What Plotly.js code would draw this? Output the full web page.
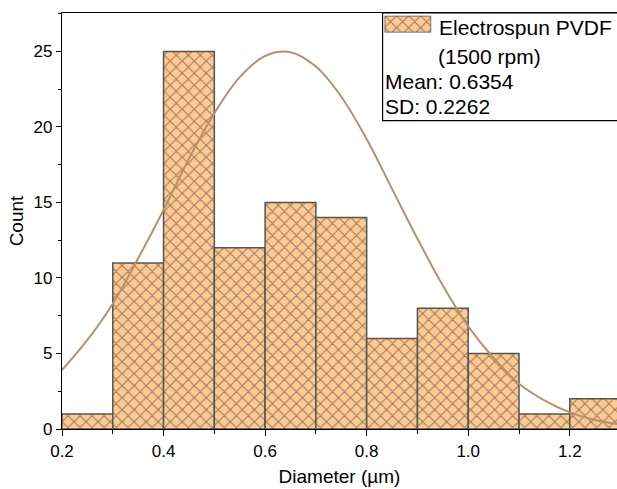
<!DOCTYPE html>
<html>
<head>
<meta charset="utf-8">
<script src="https://cdn.plot.ly/plotly-3.0.1.min.js"></script>
<style>html,body{margin:0;padding:0;background:#fff;}#chart{width:617px;height:489px;}</style>
</head>
<body>
<div id="chart"></div>
<script>
// Histogram bins (centres, µm) and counts
const binCenters = [0.25, 0.35, 0.45, 0.55, 0.65, 0.75, 0.85, 0.95, 1.05, 1.15, 1.25];
const counts = [1, 11, 25, 12, 15, 14, 6, 8, 5, 1, 2];
// Normal fit curve
const curveX = [0.20, 0.25, 0.30, 0.35, 0.40, 0.45, 0.50, 0.55, 0.60, 0.65, 0.70, 0.75, 0.80, 0.85, 0.90, 0.95, 1.00, 1.05, 1.10, 1.15, 1.20, 1.25, 1.30];
const curveY = [3.9, 5.9, 8.3, 11.3, 14.5, 17.9, 20.9, 23.3, 24.7, 24.95, 24.0, 22.0, 19.2, 15.9, 12.6, 9.5, 6.8, 4.7, 3.0, 1.9, 1.1, 0.6, 0.3];
// Legend texts
const seriesName = ["Electrospun PVDF", "(1500 rpm)"];
const statsText = ["Mean: 0.6354", "SD: 0.2262"];
const xTicks = [0.2, 0.4, 0.6, 0.8, 1.0, 1.2];
const yTicks = [0, 5, 10, 15, 20, 25];

const FONT = "Liberation Sans, Arial, sans-serif";
const barColor = "#FFC993";
const hatch = {shape: "x", size: 8.5, solidity: 0.24, fgcolor: "#303030", fillmode: "overlay"};

const traces = [
  {
    type: "bar", x: binCenters, y: counts, width: 0.1,
    marker: {color: barColor, line: {color: "#555555", width: 1.5}, pattern: hatch},
    showlegend: false, hoverinfo: "skip"
  },
  {
    type: "scatter", mode: "lines", x: curveX, y: curveY,
    line: {color: "#B8916A", width: 2, shape: "spline", smoothing: 1.0},
    showlegend: false, hoverinfo: "skip"
  },
  {
    type: "bar", x: [0], y: [1], width: 1, xaxis: "x2", yaxis: "y2",
    marker: {color: barColor, line: {color: "#555555", width: 1.5}, pattern: hatch},
    showlegend: false, hoverinfo: "skip"
  }
];

const plotL = 62.3, plotR = 617, plotT = 13.3, plotB = 428.7;
const px = v => (v - plotL) / (plotR - plotL);
const py = v => (plotB - v) / (plotB - plotT);

const annotations = [
  {text: seriesName[0], x: px(437.5), y: py(28), xanchor: "left", yanchor: "middle"},
  {text: seriesName[1], x: px(436.5), y: py(57), xanchor: "left", yanchor: "middle"},
  {text: statsText[0], x: px(383), y: py(82), xanchor: "left", yanchor: "middle"},
  {text: statsText[1], x: px(383), y: py(107), xanchor: "left", yanchor: "middle"}
].map(a => Object.assign(a, {xref: "paper", yref: "paper", showarrow: false, font: {family: FONT, size: 21, color: "#000"}}));

const layout = {
  width: 617, height: 489,
  margin: {l: 62.3, r: 0, t: 13.3, b: 60.3},
  paper_bgcolor: "#fff", plot_bgcolor: "#fff",
  bargap: 0,
  font: {family: FONT, color: "#000"},
  xaxis: {
    range: [0.2, 0.2 + (plotR - plotL) / 507.5],
    tickvals: xTicks, ticktext: xTicks.map(v => v.toFixed(1)),
    ticks: "outside", ticklen: 6, tickwidth: 1, tickcolor: "#000",
    minor: {dtick: 0.1, tick0: 0.2, ticks: "outside", ticklen: 4, tickcolor: "#000", showgrid: false},
    showline: true, linecolor: "#000", linewidth: 1.2, mirror: true,
    showgrid: false, zeroline: false,
    tickfont: {family: FONT, size: 17, color: "#000"},
    title: {text: "Diameter (µm)", font: {family: FONT, size: 19, color: "#000"}, standoff: 10},
    automargin: false
  },
  yaxis: {
    range: [0, (plotB - plotT) / 15.08],
    tickvals: yTicks,
    ticks: "outside", ticklen: 5, tickwidth: 1, tickcolor: "#000",
    minor: {dtick: 2.5, tick0: 0, ticks: "outside", ticklen: 3, tickcolor: "#000", showgrid: false},
    showline: true, linecolor: "#000", linewidth: 1.2, mirror: false,
    showgrid: false, zeroline: false,
    tickfont: {family: FONT, size: 17, color: "#000"},
    title: {text: "Count", font: {family: FONT, size: 19, color: "#000"}, standoff: 4},
    automargin: false
  },
  xaxis2: {domain: [px(384.7), px(431.3)], range: [-0.5, 0.5], visible: false, anchor: "y2", fixedrange: true},
  yaxis2: {domain: [py(32.7), py(16)], range: [0, 1], visible: false, anchor: "x2", fixedrange: true},
  shapes: [
    {type: "rect", xref: "paper", yref: "paper", x0: px(382.7), x1: 1.02, y0: py(120.7), y1: 1,
     line: {color: "#000", width: 1.2}, fillcolor: "rgba(255,255,255,0)", layer: "above"}
  ],
  annotations: annotations
};

Plotly.newPlot("chart", traces, layout, {staticPlot: true, displayModeBar: false});
</script>
</body>
</html>
